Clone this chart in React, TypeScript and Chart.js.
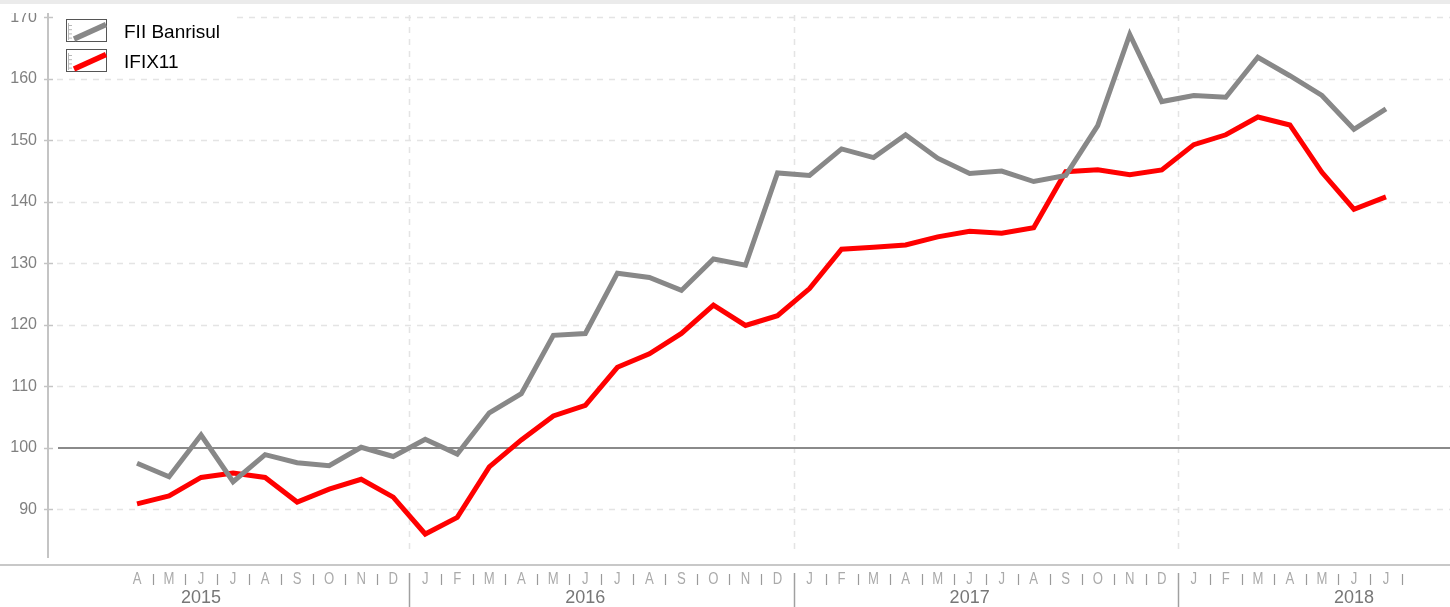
import React, { useEffect, useRef } from "react";
import { Chart, registerables } from "chart.js";

Chart.register(...registerables);

// ---- Data ----
const MONTH_LETTERS = [
  "A", "M", "J", "J", "A", "S", "O", "N", "D",
  "J", "F", "M", "A", "M", "J", "J", "A", "S", "O", "N", "D",
  "J", "F", "M", "A", "M", "J", "J", "A", "S", "O", "N", "D",
  "J", "F", "M", "A", "M", "J", "J",
];
const YEAR_LABELS = ["2015", "2016", "2017", "2018"];
const YEAR_LABEL_INDEX = [2, 14, 26, 38]; // June of each year
const YEAR_BOUNDARIES = [8.5, 20.5, 32.5];
const Y_TICKS = [90, 100, 110, 120, 130, 140, 150, 160, 170];

const BANRISUL = [
  97.5, 95.3, 102.1, 94.5, 98.9, 97.6, 97.1, 100.1, 98.6,
  101.4, 99.0, 105.7, 108.8, 118.3, 118.6, 128.4, 127.7, 125.6, 130.7, 129.7, 144.7,
  144.3, 148.6, 147.2, 150.9, 147.1, 144.6, 145.0, 143.3, 144.3, 152.4, 167.2, 156.3,
  157.3, 157.0, 163.5, 160.5, 157.3, 151.8, 155.1,
];
const IFIX11 = [
  90.9, 92.2, 95.2, 95.9, 95.2, 91.2, 93.3, 94.9, 92.0,
  86.0, 88.7, 96.9, 101.3, 105.2, 106.9, 113.1, 115.3, 118.6, 123.2, 119.9, 121.5,
  125.9, 132.3, 132.6, 133.0, 134.3, 135.2, 134.9, 135.8, 144.9, 145.2, 144.4, 145.2,
  149.3, 150.9, 153.8, 152.5, 144.8, 138.8, 140.8,
];
const SERIES_NAMES = ["FII Banrisul", "IFIX11"];
const SERIES_COLORS = ["#888888", "#ff0000"];

const FONT = "'Liberation Sans', Arial, sans-serif";

function line(ctx: CanvasRenderingContext2D, x1: number, y1: number, x2: number, y2: number) {
  ctx.beginPath();
  ctx.moveTo(x1, y1);
  ctx.lineTo(x2, y2);
  ctx.stroke();
}

const customPlugin = {
  id: "customAxes",
  beforeDatasetsDraw(chart: any) {
    const { ctx, chartArea, scales } = chart;
    const x = scales.x;
    const y = scales.y;
    ctx.save();
    ctx.strokeStyle = "#e4e4e4";
    ctx.lineWidth = 1.5;
    ctx.setLineDash([6, 6]);
    for (const v of Y_TICKS) {
      if (v === 100) continue;
      const py = Math.round(y.getPixelForValue(v)) + 0.5;
      line(ctx, 57, py, chartArea.right, py);
    }
    for (const b of YEAR_BOUNDARIES) {
      const px = Math.round(x.getPixelForValue(b)) + 0.5;
      line(ctx, px, chartArea.top + 2, px, chartArea.bottom - 3);
    }
    ctx.setLineDash([]);
    ctx.strokeStyle = "#8a8a8a";
    ctx.lineWidth = 2;
    const p100 = Math.round(y.getPixelForValue(100));
    line(ctx, 58, p100, chartArea.right, p100);
    // legend background (hides the grid behind the legend)
    ctx.fillStyle = "#ffffff";
    ctx.fillRect(55, 0, 181, 62);
    ctx.restore();
  },
  afterDraw(chart: any) {
    const { ctx, chartArea, scales } = chart;
    const x = scales.x;
    const y = scales.y;
    const W = chart.width;
    ctx.save();
    // y axis line
    ctx.strokeStyle = "#c4c4c4";
    ctx.lineWidth = 2;
    line(ctx, 48, chartArea.top, 48, chartArea.bottom);
    ctx.lineWidth = 1.5;
    for (const v of Y_TICKS) {
      const py = Math.round(y.getPixelForValue(v)) + 0.5;
      line(ctx, 44, py, 53, py);
    }
    // x axis line
    ctx.strokeStyle = "#c8c8c8";
    ctx.lineWidth = 2;
    line(ctx, 0, 552, W, 552);

    // month letters
    ctx.fillStyle = "#aaaaaa";
    ctx.font = `16px ${FONT}`;
    ctx.textAlign = "center";
    ctx.textBaseline = "middle";
    MONTH_LETTERS.forEach((m, i) => {
      const px = x.getPixelForValue(i);
      ctx.save();
      ctx.translate(px, 567);
      ctx.scale(0.82, 1);
      ctx.fillText(m, 0, 0);
      ctx.restore();
    });
    // month separators
    ctx.strokeStyle = "#9a9a9a";
    ctx.lineWidth = 1.2;
    for (let i = 0; i < MONTH_LETTERS.length; i++) {
      const b = i + 0.5;
      if (YEAR_BOUNDARIES.includes(b)) continue;
      const px = Math.round(x.getPixelForValue(b)) + 0.5;
      line(ctx, px, 561, px, 572);
    }
    // year separators
    ctx.strokeStyle = "#a0a0a0";
    ctx.lineWidth = 1.5;
    for (const b of YEAR_BOUNDARIES) {
      const px = Math.round(x.getPixelForValue(b)) + 0.5;
      line(ctx, px, 560, px, 594);
    }
    // year labels
    ctx.fillStyle = "#777777";
    ctx.font = `18px ${FONT}`;
    YEAR_LABELS.forEach((lbl, k) => {
      const px = x.getPixelForValue(YEAR_LABEL_INDEX[k]);
      ctx.fillText(lbl, px, 585);
    });

    // legend
    SERIES_NAMES.forEach((name, k) => {
      const top = 6 + k * 30;
      const left = 66.5;
      ctx.fillStyle = "#ffffff";
      ctx.fillRect(left, top + 0.5, 40, 22);
      ctx.strokeStyle = "#555555";
      ctx.lineWidth = 1;
      ctx.strokeRect(left, top + 0.5, 40, 22);
      // mini axis ticks
      ctx.strokeStyle = "#b8b8b8";
      ctx.lineWidth = 1;
      line(ctx, 68.5, top + 4, 68.5, top + 21);
      for (let t = 0; t < 4; t++) {
        const ty = top + 6.5 + t * 4.2;
        line(ctx, 68.5, ty, 72, ty);
      }
      ctx.strokeStyle = SERIES_COLORS[k];
      ctx.lineWidth = 5.5;
      line(ctx, 74, top + 20, 106, top + 5.5);
      ctx.fillStyle = "#000000";
      ctx.font = `19px ${FONT}`;
      ctx.textAlign = "left";
      ctx.textBaseline = "middle";
      ctx.fillText(name, 124, top + 14);
    });
    ctx.restore();
  },
};

export default function App() {
  const canvasRef = useRef<HTMLCanvasElement | null>(null);

  useEffect(() => {
    if (!canvasRef.current) return;
    const chart = new Chart(canvasRef.current, {
      type: "line",
      data: {
        datasets: [
          {
            label: SERIES_NAMES[0],
            data: BANRISUL.map((v, i) => ({ x: i, y: v })),
            borderColor: SERIES_COLORS[0],
            backgroundColor: SERIES_COLORS[0],
            borderWidth: 5,
            pointRadius: 0,
            tension: 0,
          },
          {
            label: SERIES_NAMES[1],
            data: IFIX11.map((v, i) => ({ x: i, y: v })),
            borderColor: SERIES_COLORS[1],
            backgroundColor: SERIES_COLORS[1],
            borderWidth: 5,
            pointRadius: 0,
            tension: 0,
          },
        ],
      },
      options: {
        responsive: false,
        animation: false,
        devicePixelRatio: 1,
        layout: { padding: { top: 0, bottom: 49, left: 0, right: 0 } },
        plugins: { legend: { display: false }, tooltip: { enabled: false } },
        scales: {
          x: {
            type: "linear",
            min: -2.78,
            max: 41.0,
            display: false,
          },
          y: {
            type: "linear",
            min: 82.1,
            max: 170.7,
            border: { display: false },
            grid: { display: true, drawOnChartArea: false, drawTicks: false },
            ticks: {
              stepSize: 10,
              includeBounds: false,
              padding: 11,
              color: "#808080",
              font: { family: FONT, size: 16 },
            },
            afterFit: (scale: any) => {
              scale.width = 48;
              scale.paddingTop = 0;
              scale.paddingBottom = 0;
            },
          },
        },
      },
      plugins: [customPlugin],
    });
    return () => chart.destroy();
  }, []);

  return (
    <div
      style={{
        position: "absolute",
        left: 0,
        top: 0,
        width: 1450,
        height: 607,
        background: "#ffffff",
        overflow: "hidden",
      }}
    >
      <div style={{ position: "absolute", left: 0, top: 0, width: 1450, height: 4, background: "#ebebeb" }} />
      <canvas
        ref={canvasRef}
        width={1450}
        height={594}
        style={{ position: "absolute", left: 0, top: 13, width: 1450, height: 594 }}
      />
    </div>
  );
}
